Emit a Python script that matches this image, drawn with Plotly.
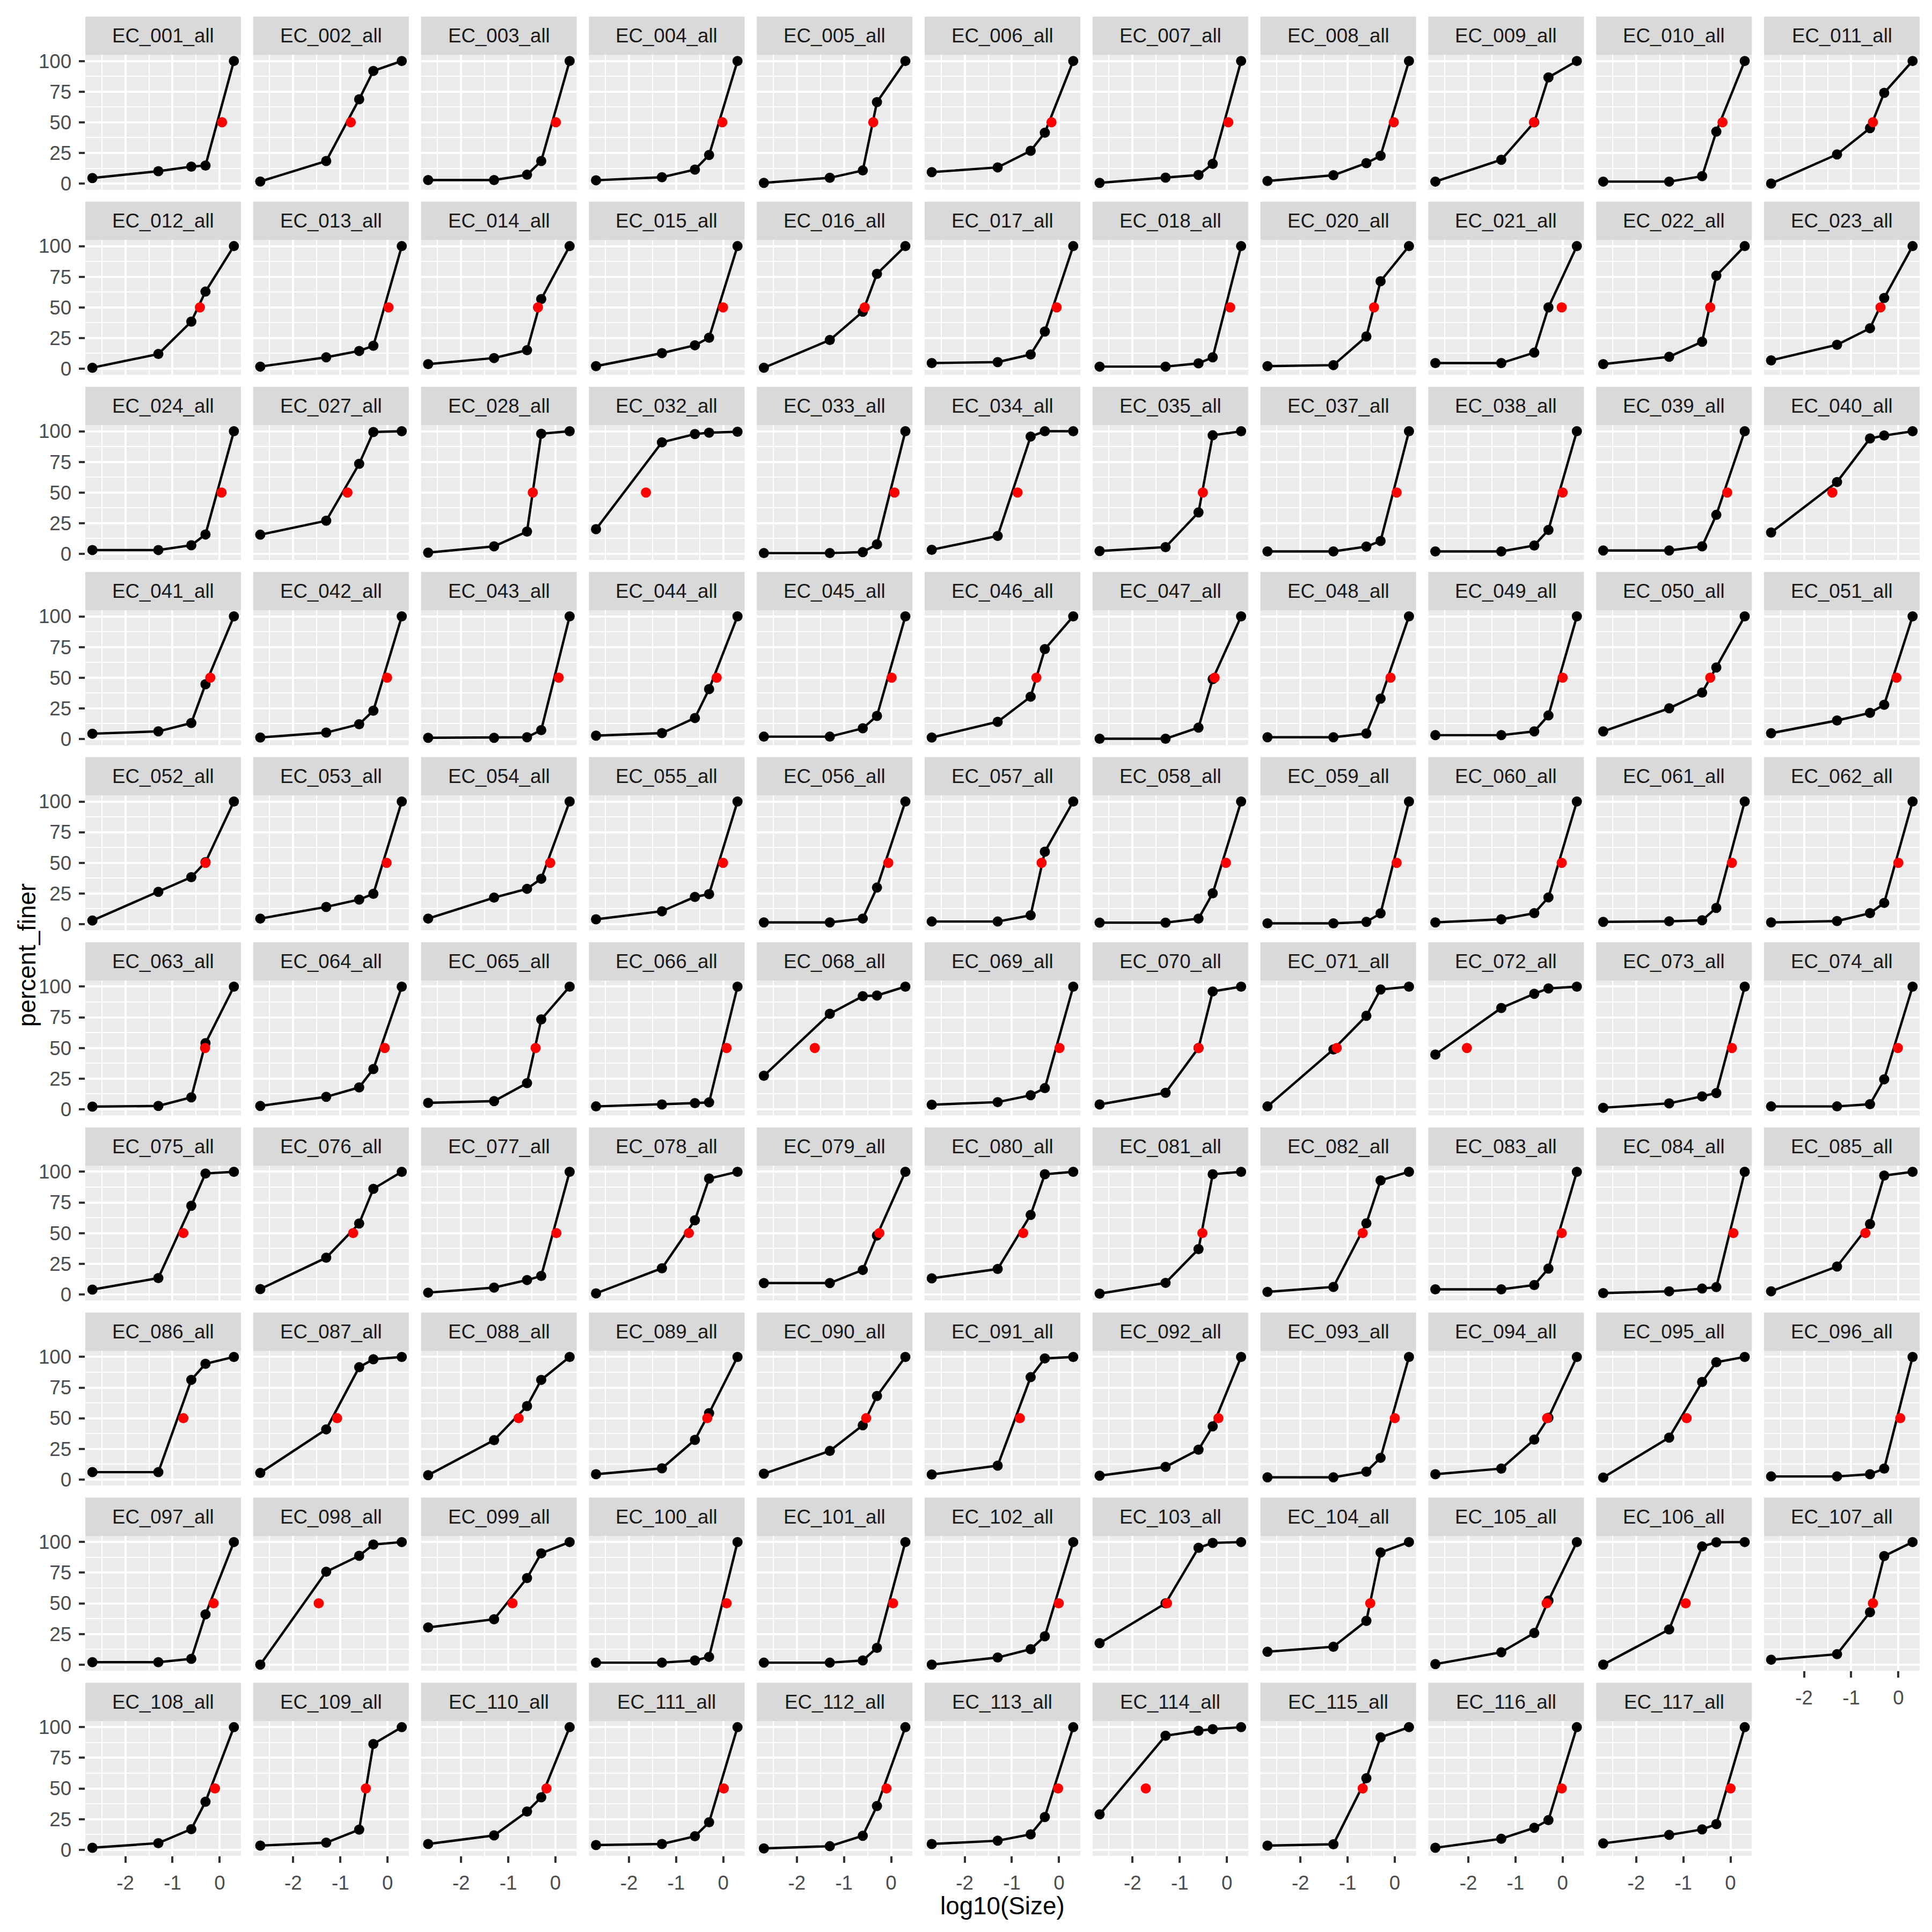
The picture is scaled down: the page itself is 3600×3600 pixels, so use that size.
import numpy as np
import plotly.graph_objects as go

# ---------------- data ----------------
SIZES_MM = [0.002, 0.05, 0.25, 0.5, 2.0]          # sieve / particle sizes
LOG_SIZE = list(np.log10(SIZES_MM))

SAMPLES = [
    "EC_001_all", "EC_002_all", "EC_003_all", "EC_004_all", "EC_005_all", "EC_006_all",
    "EC_007_all", "EC_008_all", "EC_009_all", "EC_010_all", "EC_011_all",
    "EC_012_all", "EC_013_all", "EC_014_all", "EC_015_all", "EC_016_all", "EC_017_all",
    "EC_018_all", "EC_020_all", "EC_021_all", "EC_022_all", "EC_023_all",
    "EC_024_all", "EC_027_all", "EC_028_all", "EC_032_all", "EC_033_all", "EC_034_all",
    "EC_035_all", "EC_037_all", "EC_038_all", "EC_039_all", "EC_040_all",
    "EC_041_all", "EC_042_all", "EC_043_all", "EC_044_all", "EC_045_all", "EC_046_all",
    "EC_047_all", "EC_048_all", "EC_049_all", "EC_050_all", "EC_051_all",
    "EC_052_all", "EC_053_all", "EC_054_all", "EC_055_all", "EC_056_all", "EC_057_all",
    "EC_058_all", "EC_059_all", "EC_060_all", "EC_061_all", "EC_062_all",
    "EC_063_all", "EC_064_all", "EC_065_all", "EC_066_all", "EC_068_all", "EC_069_all",
    "EC_070_all", "EC_071_all", "EC_072_all", "EC_073_all", "EC_074_all",
    "EC_075_all", "EC_076_all", "EC_077_all", "EC_078_all", "EC_079_all", "EC_080_all",
    "EC_081_all", "EC_082_all", "EC_083_all", "EC_084_all", "EC_085_all",
    "EC_086_all", "EC_087_all", "EC_088_all", "EC_089_all", "EC_090_all", "EC_091_all",
    "EC_092_all", "EC_093_all", "EC_094_all", "EC_095_all", "EC_096_all",
    "EC_097_all", "EC_098_all", "EC_099_all", "EC_100_all", "EC_101_all", "EC_102_all",
    "EC_103_all", "EC_104_all", "EC_105_all", "EC_106_all", "EC_107_all",
    "EC_108_all", "EC_109_all", "EC_110_all", "EC_111_all", "EC_112_all", "EC_113_all",
    "EC_114_all", "EC_115_all", "EC_116_all", "EC_117_all",
]

# percent finer at each size in SIZES_MM
PERCENT_FINER = [
    [4.5, 10.1, 13.8, 14.7, 100], [1.7, 18.4, 68.8, 91.9, 100], [2.9, 2.9, 7.2, 18.4, 100],
    [2.7, 5.2, 11.4, 23.3, 100], [0.6, 4.7, 10.7, 66.5, 100], [9.3, 13.2, 26.7, 41.5, 100],
    [0.6, 4.8, 7.0, 16.1, 100], [2.1, 6.8, 16.7, 22.7, 100], [1.6, 19.4, 50.0, 86.6, 100],
    [1.6, 1.6, 6.0, 42.4, 100], [0.0, 23.8, 45.2, 74.0, 100],
    [0.8, 12.0, 38.4, 62.9, 100], [1.7, 9.3, 14.5, 18.7, 100], [3.7, 8.7, 15.1, 56.8, 100],
    [2.1, 12.7, 19.1, 25.3, 100], [0.8, 23.4, 46.5, 77.4, 100], [4.6, 5.4, 11.6, 30.3, 100],
    [1.7, 1.7, 4.4, 9.3, 100], [2.1, 2.9, 26.3, 71.4, 100], [4.6, 4.6, 13.1, 50.0, 100],
    [3.7, 9.7, 22.0, 75.9, 100], [6.8, 19.5, 33.0, 57.7, 100],
    [3.1, 3.1, 7.0, 15.8, 100], [15.6, 27.0, 73.4, 99.4, 100], [1.0, 6.1, 18.2, 98.0, 100],
    [20.1, 91.0, 97.7, 98.8, 99.6], [0.6, 0.6, 1.4, 7.8, 100], [3.3, 14.6, 95.7, 100, 100],
    [2.3, 5.5, 33.8, 96.7, 100], [2.0, 2.0, 5.9, 10.5, 100], [2.0, 2.0, 6.8, 19.5, 100],
    [2.7, 2.7, 6.1, 31.8, 100], [17.4, 58.6, 94.1, 96.5, 100],
    [4.3, 6.2, 13.0, 44.6, 100], [1.2, 5.2, 12.0, 23.1, 100], [1.0, 1.0, 1.4, 7.2, 100],
    [2.7, 4.8, 17.1, 40.7, 100], [1.9, 1.9, 8.7, 18.8, 100], [1.2, 14.0, 34.5, 73.3, 100],
    [0.2, 0.2, 9.3, 48.8, 100], [1.4, 1.4, 4.5, 32.9, 100], [3.1, 3.1, 6.2, 19.2, 100],
    [6.2, 25.0, 37.8, 58.3, 100], [4.7, 15.1, 21.3, 27.9, 100],
    [2.9, 26.3, 38.3, 50.5, 100], [4.5, 14.0, 20.0, 24.7, 100], [4.5, 21.6, 28.8, 37.0, 100],
    [3.9, 10.5, 22.2, 24.5, 100], [1.4, 1.4, 4.5, 29.8, 100], [2.1, 2.1, 7.2, 59.1, 100],
    [1.2, 1.2, 4.5, 25.1, 100], [0.6, 0.6, 1.8, 8.8, 100], [1.4, 3.9, 8.9, 21.8, 100],
    [1.8, 2.3, 3.1, 13.2, 100], [1.4, 2.5, 8.9, 17.3, 100],
    [2.1, 2.7, 9.7, 53.9, 100], [2.7, 10.1, 17.8, 32.8, 100], [5.2, 6.6, 21.3, 73.3, 100],
    [2.3, 3.9, 5.0, 5.6, 100], [27.3, 77.9, 92.2, 92.8, 100], [3.7, 5.8, 11.4, 17.2, 100],
    [3.9, 13.4, 50.0, 96.1, 100], [2.3, 48.8, 76.2, 97.7, 100], [44.6, 82.6, 94.2, 98.6, 100],
    [1.2, 4.8, 10.5, 13.2, 100], [2.3, 2.3, 4.1, 24.4, 100],
    [3.9, 13.3, 72.3, 98.6, 100], [4.3, 29.9, 57.8, 86.1, 100], [1.4, 5.5, 11.7, 15.0, 100],
    [0.8, 21.3, 60.5, 94.5, 100], [9.2, 9.2, 19.9, 48.0, 100], [13.1, 20.7, 64.8, 98.0, 100],
    [0.6, 9.4, 36.9, 98.0, 100], [2.0, 6.1, 58.0, 93.0, 100], [4.1, 4.1, 7.6, 21.1, 100],
    [1.0, 2.5, 4.7, 5.9, 100], [2.5, 22.7, 57.4, 96.9, 100],
    [6.0, 6.0, 81.3, 94.4, 100], [5.4, 40.9, 91.6, 98.1, 100], [3.5, 32.1, 59.9, 81.3, 100],
    [4.3, 9.1, 32.3, 54.1, 100], [4.7, 23.3, 44.2, 68.1, 100], [4.1, 11.3, 83.5, 98.8, 100],
    [3.1, 10.3, 24.3, 43.4, 100], [1.8, 1.8, 6.4, 17.7, 100], [4.3, 8.9, 32.5, 50.4, 100],
    [1.6, 34.2, 79.6, 95.7, 100], [2.5, 2.5, 4.3, 8.9, 100],
    [2.0, 2.0, 4.7, 41.0, 100], [0.0, 75.8, 88.8, 98.0, 100], [30.3, 37.0, 70.6, 90.8, 100],
    [1.6, 1.6, 3.4, 6.3, 100], [1.6, 1.6, 3.4, 13.7, 100], [0.0, 5.8, 12.6, 23.1, 100],
    [17.5, 50.0, 95.3, 99.3, 100], [10.5, 14.6, 35.7, 91.5, 100], [0.4, 10.1, 25.8, 52.2, 100],
    [0.0, 28.7, 96.4, 99.8, 100], [4.0, 8.5, 42.8, 88.6, 100],
    [1.6, 5.4, 16.8, 39.2, 100], [3.4, 5.8, 16.4, 86.3, 100], [4.7, 11.7, 31.2, 42.8, 100],
    [3.8, 4.7, 11.0, 22.4, 100], [1.1, 2.9, 11.4, 35.7, 100], [4.7, 7.4, 12.6, 26.7, 100],
    [28.9, 93.0, 97.1, 98.4, 100], [3.4, 4.5, 58.3, 91.7, 100], [1.6, 9.0, 17.9, 24.2, 100],
    [5.2, 12.1, 16.6, 20.9, 100],
]

# log10(D50) of each sample (red points, drawn at 50 % finer)
LOG_D50 = [
    0.05, -0.78, 0.01, -0.02, -0.38, -0.16, 0.03, -0.02, -0.61, -0.17, -0.54,
    -0.42, 0.02, -0.37, -0.005, -0.56, -0.05, 0.07, -0.44, -0.02, -0.43, -0.38,
    0.04, -0.85, -0.48, -1.64, 0.07, -0.88, -0.51, 0.04, 0.0, -0.07, -1.40,
    -0.20, -0.01, 0.07, -0.14, 0.01, -0.48, -0.26, -0.09, 0.0, -0.43, -0.04,
    -0.30, -0.02, -0.11, -0.005, -0.06, -0.37, -0.02, 0.04, -0.02, 0.03, 0.0,
    -0.31, -0.06, -0.42, 0.07, -1.62, 0.01, -0.60, -1.23, -2.03, 0.03, -0.01,
    -0.77, -0.73, 0.02, -0.73, -0.25, -0.76, -0.52, -0.68, -0.02, 0.06, -0.70,
    -0.77, -1.07, -0.78, -0.34, -0.53, -0.83, -0.18, 0.0, -0.33, -0.93, 0.04,
    -0.13, -1.46, -0.91, 0.07, 0.04, -0.005, -1.27, -0.52, -0.34, -0.95, -0.54,
    -0.10, -0.46, -0.19, 0.01, -0.10, -0.02, -1.72, -0.68, -0.02, 0.0,
]
D50_PERCENT = 50

X_TICKS = [-2, -1, 0]
X_TICK_TEXT = ["-2", "-1", "0"]
Y_TICKS = [0, 25, 50, 75, 100]
Y_TICK_TEXT = ["0", "25", "50", "75", "100"]

# ---------------- layout geometry (pixels) ----------------
W = H = 3600
NCOL = 11
COL_LEFT0, COL_PITCH, PANEL_W = 159.0, 312.8, 290.0
ROW_TOP0, ROW_PITCH, PANEL_H = 93.7, 346.7, 252.5
STRIP_H = 71.7

FONT = "Liberation Sans, Arial, sans-serif"
TXT = 36.7
TITLE = 45.8
MAJ_W = 4.45
MIN_W = 2.2
TICK_LEN = 11.5

x_range = [-2.849, 0.451]
y_range = [-5, 105]

fig = go.Figure()
layout = dict(
    width=W, height=H, margin=dict(l=0, r=0, t=0, b=0, pad=0),
    paper_bgcolor="white", plot_bgcolor="#EBEBEB",
    showlegend=False, font=dict(family=FONT, size=TXT, color="#4D4D4D"),
)
shapes, annotations = [], []

n = len(SAMPLES)
for i, name in enumerate(SAMPLES):
    r, c = divmod(i, NCOL)
    left = COL_LEFT0 + c * COL_PITCH
    top = ROW_TOP0 + r * ROW_PITCH
    xd = [left / W, (left + PANEL_W) / W]
    yd = [1 - (top + PANEL_H) / H, 1 - top / H]
    k = i + 1
    xa = "x" if k == 1 else f"x{k}"
    ya = "y" if k == 1 else f"y{k}"

    # last panel in its column gets x axis labels
    bottom = (i + NCOL) >= n
    first_col = c == 0

    xaxis = dict(
        domain=xd, anchor=ya, range=x_range, tickmode="array",
        tickvals=X_TICKS, ticktext=X_TICK_TEXT,
        showgrid=True, gridcolor="white", gridwidth=MAJ_W, zeroline=False, showline=False,
        minor=dict(tickmode="array", tickvals=[-2.5, -1.5, -0.5], showgrid=True,
                   gridcolor="white", gridwidth=MIN_W, ticks=""),
        showticklabels=bottom, ticks="outside" if bottom else "",
        ticklen=TICK_LEN, tickwidth=MAJ_W, tickcolor="#333333",
        tickfont=dict(family=FONT, size=TXT, color="#4D4D4D"),
        ticklabelstandoff=6,
    )
    yaxis = dict(
        domain=yd, anchor=xa, range=y_range, tickmode="array",
        tickvals=Y_TICKS, ticktext=Y_TICK_TEXT,
        showgrid=True, gridcolor="white", gridwidth=MAJ_W, zeroline=False, showline=False,
        minor=dict(tickmode="array", tickvals=[12.5, 37.5, 62.5, 87.5], showgrid=True,
                   gridcolor="white", gridwidth=MIN_W, ticks=""),
        showticklabels=first_col, ticks="outside" if first_col else "",
        ticklen=TICK_LEN, tickwidth=MAJ_W, tickcolor="#333333",
        tickfont=dict(family=FONT, size=TXT, color="#4D4D4D"),
        ticklabelstandoff=6,
    )
    layout["xaxis" if k == 1 else f"xaxis{k}"] = xaxis
    layout["yaxis" if k == 1 else f"yaxis{k}"] = yaxis

    fig.add_trace(go.Scatter(
        x=LOG_SIZE, y=PERCENT_FINER[i], mode="lines+markers", xaxis=xa, yaxis=ya,
        line=dict(color="black", width=MAJ_W), marker=dict(color="black", size=19),
        hoverinfo="skip", cliponaxis=False,
    ))
    fig.add_trace(go.Scatter(
        x=[LOG_D50[i]], y=[D50_PERCENT], mode="markers", xaxis=xa, yaxis=ya,
        marker=dict(color="#FF0000", size=19), hoverinfo="skip", cliponaxis=False,
    ))

    # strip
    s_top = top - STRIP_H
    shapes.append(dict(
        type="rect", xref="paper", yref="paper", layer="below",
        x0=left / W, x1=(left + PANEL_W) / W, y0=1 - top / H, y1=1 - s_top / H,
        fillcolor="#D9D9D9", line=dict(width=0),
    ))
    annotations.append(dict(
        text=name, xref="paper", yref="paper", showarrow=False,
        x=(left + PANEL_W / 2) / W, y=1 - (s_top + STRIP_H / 2) / H,
        xanchor="center", yanchor="middle",
        font=dict(family=FONT, size=TXT, color="#1A1A1A"),
    ))

# axis titles
annotations.append(dict(
    text="log10(Size)", xref="paper", yref="paper", showarrow=False,
    x=(COL_LEFT0 + (NCOL - 1) * COL_PITCH / 2 + PANEL_W / 2) / W, y=1 - 3560 / H,
    xanchor="center", yanchor="middle", font=dict(family=FONT, size=TITLE, color="black"),
))
annotations.append(dict(
    text="percent_finer", xref="paper", yref="paper", showarrow=False, textangle=-90,
    x=50 / W, y=1 - (ROW_TOP0 + (9 * ROW_PITCH + PANEL_H) / 2) / H,
    xanchor="center", yanchor="middle", font=dict(family=FONT, size=TITLE, color="black"),
))

layout["shapes"] = shapes
layout["annotations"] = annotations
fig.update_layout(**layout)
fig.write_html("out.html")
